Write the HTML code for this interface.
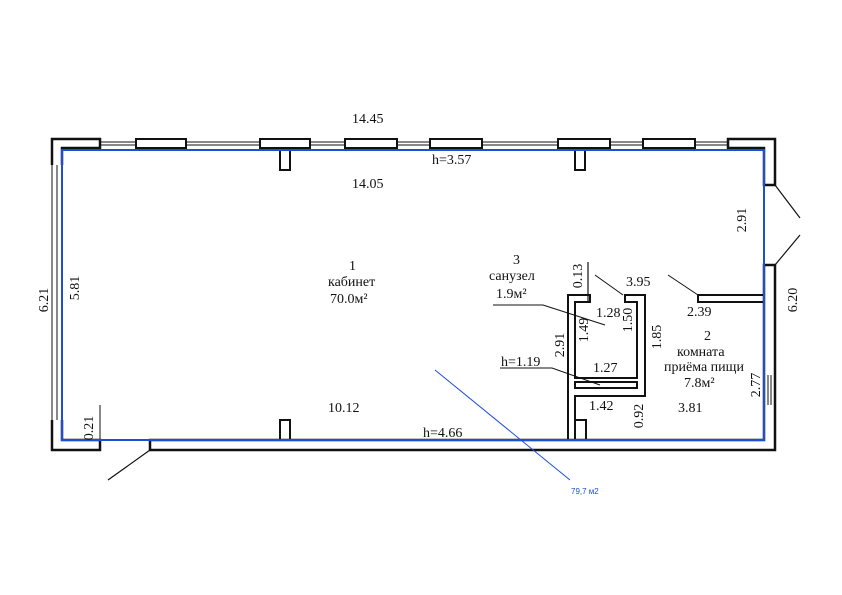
<!DOCTYPE html>
<html><head><meta charset="utf-8"><style>
html,body{margin:0;padding:0;background:#fff;}
svg{display:block}
text{font-family:"Liberation Serif","DejaVu Serif",serif;font-size:14px;fill:#111}
</style></head><body>
<svg width="842" height="595" viewBox="0 0 842 595" xmlns="http://www.w3.org/2000/svg">
<g fill="none" stroke="#111" stroke-width="2">
<path d="M52 165 V139 H100 V148 H62 V165" stroke-width="2.5"/>
<rect x="136" y="139" width="50" height="9"/>
<rect x="260" y="139" width="50" height="9"/>
<rect x="345" y="139" width="52" height="9"/>
<rect x="430" y="139" width="52" height="9"/>
<rect x="558" y="139" width="52" height="9"/>
<rect x="643" y="139" width="52" height="9"/>
<path d="M728 148 V139 H775 V185 H764 V148 Z" stroke-width="2.5"/>
<path d="M280 150 V170 H290 V150"/>
<path d="M575 150 V170 H585 V150"/>
<path d="M52 420 V450 H100 V440 H62 V420" stroke-width="2.5"/>
<path d="M150 440 V450 H775 V265 H764 V440 Z" stroke-width="2.5"/>
<path d="M280 440 V420 H290 V440"/>
<path d="M150 450 L108 480" stroke-width="1.2"/>
<path d="M775 185 L800 218 M775 265 L800 235" stroke-width="1.2"/>
<path d="M568 440 V295 H590 V302 H575 V378 H637 V302 H625 V295 H645 V396 H575 V440 M575 382 H637 V388 H575 Z" stroke-width="2"/>
<path d="M575 420 H586 V440"/>
<path d="M698 295 H764 V302 H698 Z"/>
<path d="M588 262 V302" stroke-width="1.2"/>
</g>
<g stroke="#111" stroke-width="1" fill="none">
<path d="M100 142 H136 M100 145 H136 M186 142 H260 M186 145 H260 M310 142 H345 M310 145 H345 M397 142 H430 M397 145 H430 M482 142 H558 M482 145 H558 M610 142 H643 M610 145 H643 M695 142 H728 M695 145 H728"/>
<path d="M52 165 V420 M57 165 V420 M62 165 V420"/>
<path d="M764 375 V405 M768 375 V405 M771 375 V405"/>
<path d="M493 305 L543 305 L605 325"/>
<path d="M500 368 L552 368 L600 385"/>
<path d="M595 275 L623 295 M668 275 L698 295"/>
<path d="M100 405 V445"/>
</g>
<path d="M62 150 H764 V440 H62 Z" fill="none" stroke="#1a4fd6" stroke-width="2"/>
<path d="M435 370 L570 480" stroke="#1a4fd6" stroke-width="1"/>
<text x="571" y="494" style="font-family:'Liberation Sans',sans-serif;font-size:8px;fill:#1a4fd6">79,7 м2</text>
<text x="352" y="123">14.45</text>
<text x="432" y="164">h=3.57</text>
<text x="352" y="188">14.05</text>
<text x="349" y="270">1</text>
<text x="328" y="286">кабинет</text>
<text x="330" y="303">70.0м²</text>
<text x="328" y="412">10.12</text>
<text x="423" y="437">h=4.66</text>
<text x="513" y="264">3</text>
<text x="489" y="280">санузел</text>
<text x="496" y="298">1.9м²</text>
<text x="596" y="317">1.28</text>
<text x="501" y="366">h=1.19</text>
<text x="593" y="372">1.27</text>
<text x="589" y="410">1.42</text>
<text x="626" y="286">3.95</text>
<text x="687" y="316">2.39</text>
<text x="704" y="340">2</text>
<text x="677" y="356">комната</text>
<text x="664" y="371">приёма пищи</text>
<text x="684" y="387">7.8м²</text>
<text x="678" y="412">3.81</text>
<text transform="translate(48,300) rotate(-90)" text-anchor="middle">6.21</text>
<text transform="translate(79,288) rotate(-90)" text-anchor="middle">5.81</text>
<text transform="translate(93,428) rotate(-90)" text-anchor="middle">0.21</text>
<text transform="translate(582,276) rotate(-90)" text-anchor="middle">0.13</text>
<text transform="translate(588,330) rotate(-90)" text-anchor="middle">1.49</text>
<text transform="translate(632,320) rotate(-90)" text-anchor="middle">1.50</text>
<text transform="translate(661,337) rotate(-90)" text-anchor="middle">1.85</text>
<text transform="translate(564,345) rotate(-90)" text-anchor="middle">2.91</text>
<text transform="translate(643,416) rotate(-90)" text-anchor="middle">0.92</text>
<text transform="translate(746,220) rotate(-90)" text-anchor="middle">2.91</text>
<text transform="translate(797,300) rotate(-90)" text-anchor="middle">6.20</text>
<text transform="translate(760,385) rotate(-90)" text-anchor="middle">2.77</text>
</svg>
</body></html>
